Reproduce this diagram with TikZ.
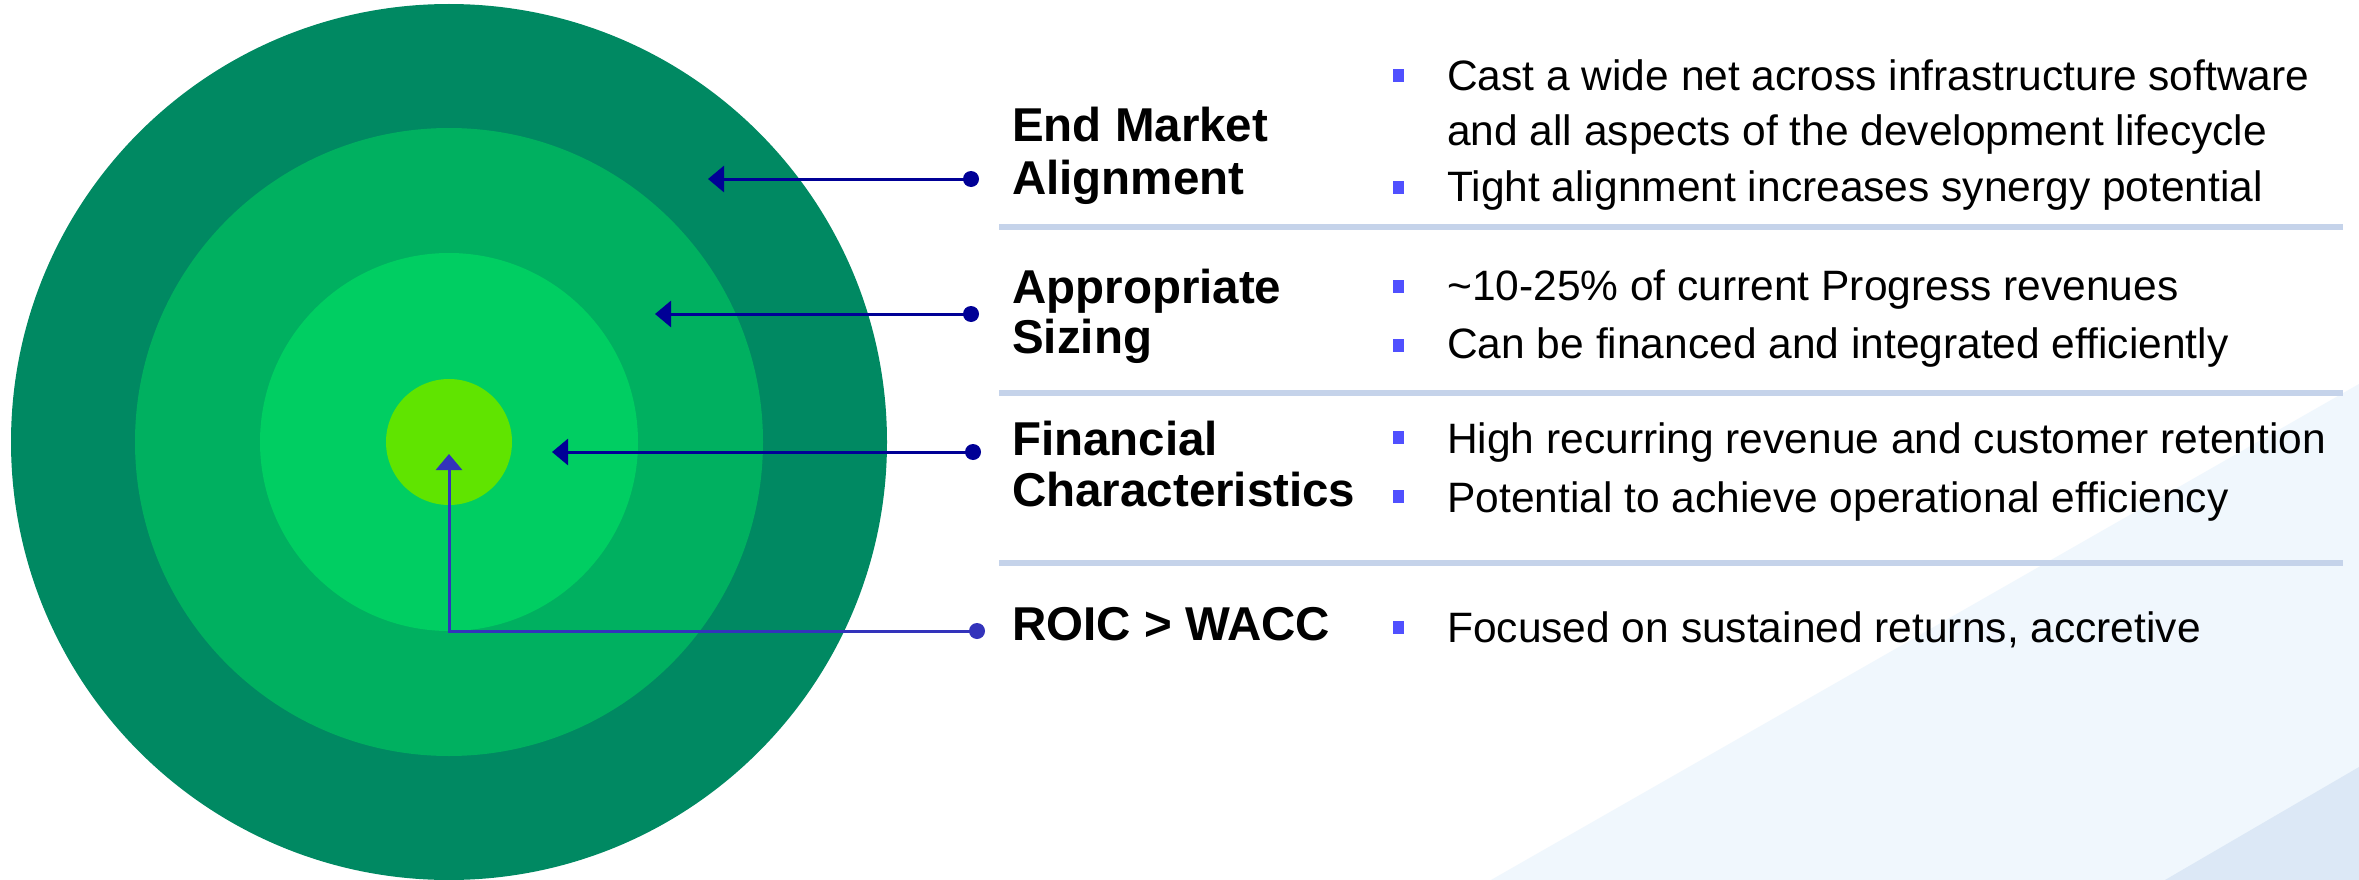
\documentclass[tikz,border=0pt]{standalone}
\usepackage{fontspec}
\setmainfont{Liberation Sans}
\usetikzlibrary{arrows.meta}
\definecolor{ringA}{RGB}{0,137,98}
\definecolor{ringB}{RGB}{0,176,96}
\definecolor{ringC}{RGB}{0,206,98}
\definecolor{ringD}{RGB}{96,228,0}
\definecolor{navy}{RGB}{0,0,150}
\definecolor{roicblue}{RGB}{51,51,187}
\definecolor{bulletblue}{RGB}{80,80,255}
\definecolor{sepline}{RGB}{197,211,234}
\definecolor{bgA}{RGB}{240,247,253}
\definecolor{bgB}{RGB}{220,232,246}
\begin{document}
\begin{tikzpicture}[x=1pt,y=-1pt,
  ring/.style={circle, inner sep=0pt, outer sep=0pt, draw=none},
  ttl/.style={anchor=base west, inner sep=0pt, font=\fontsize{47.5}{52}\selectfont\bfseries},
  body/.style={anchor=base west, inner sep=0pt, font=\fontsize{42.5}{48}\selectfont},
  sq/.style={fill=bulletblue, minimum width=11pt, minimum height=13pt, inner sep=0pt},
  dotend/.style={circle, fill=#1, minimum size=16pt, inner sep=0pt},
  conn/.style={draw=#1, line width=3pt, -{Triangle[length=16pt,width=26pt]}},
  sep/.style={draw=sepline, line width=6pt}
]
\useasboundingbox (0,0) rectangle (2359,880);
\fill[white] (0,0) rectangle (2359,880);
% background triangles
\fill[bgA] (1491,880) -- (2359,384) -- (2359,880) -- cycle;
\fill[bgB] (2165,880) -- (2359,767) -- (2359,880) -- cycle;
% rings
\node[ring, fill=ringA, minimum size=876pt] (r1) at (449,442) {};
\node[ring, fill=ringB, minimum size=628pt] (r2) at (449,442) {};
\node[ring, fill=ringC, minimum size=378pt] (r3) at (449,442) {};
\node[ring, fill=ringD, minimum size=126pt] (r4) at (449,442) {};
% separators
\draw[sep] (999,227) -- (2343,227);
\draw[sep] (999,393) -- (2343,393);
\draw[sep] (999,563) -- (2343,563);
% connectors
\node[dotend=navy] (d1) at (971,179) {};
\node[dotend=navy] (d2) at (971,314) {};
\node[dotend=navy] (d3) at (973,452) {};
\node[dotend=roicblue] (d4) at (977,631) {};
\coordinate (t1) at (708,179);
\coordinate (t2) at (655,314);
\coordinate (t3) at (552,452);
\coordinate (t4) at (449,454);
\draw[conn=navy] (d1.center) -- (t1);
\draw[conn=navy] (d2.center) -- (t2);
\draw[conn=navy] (d3.center) -- (t3);
\draw[conn=roicblue] (d4.center) -| (t4);
% titles
\node[ttl] (h1a) at (1012,142) {End Market};
\node[ttl] (h1b) at (1012,194) {Alignment};
\node[ttl] (h2a) at (1012,303) {Appropriate};
\node[ttl] (h2b) at (1012,353) {Sizing};
\node[ttl] (h3a) at (1012,455) {Financial};
\node[ttl] (h3b) at (1012,506) {Characteristics};
\node[ttl] (h4a) at (1012,640) {ROIC > WACC};
% bullets
\node[sq] (b1) at (1398,76) {};
\node[sq] (b2) at (1398,187) {};
\node[sq] (b3) at (1398,286) {};
\node[sq] (b4) at (1398,345) {};
\node[sq] (b5) at (1398,437) {};
\node[sq] (b6) at (1398,496) {};
\node[sq] (b7) at (1398,627) {};
% body text
\node[body] (x1a) at (1447,91) {Cast a wide net across infrastructure software};
\node[body] (x1b) at (1447,146) {and all aspects of the development lifecycle};
\node[body] (x1c) at (1447,201) {Tight alignment increases synergy potential};
\node[body] (x2a) at (1447,300) {\textasciitilde10-25\% of current Progress revenues};
\node[body] (x2b) at (1447,358) {Can be financed and integrated efficiently};
\node[body] (x3a) at (1447,453) {High recurring revenue and customer retention};
\node[body] (x3b) at (1447,512) {Potential to achieve operational efficiency};
\node[body] (x4a) at (1447,642) {Focused on sustained returns, accretive};
\end{tikzpicture}
\end{document}
